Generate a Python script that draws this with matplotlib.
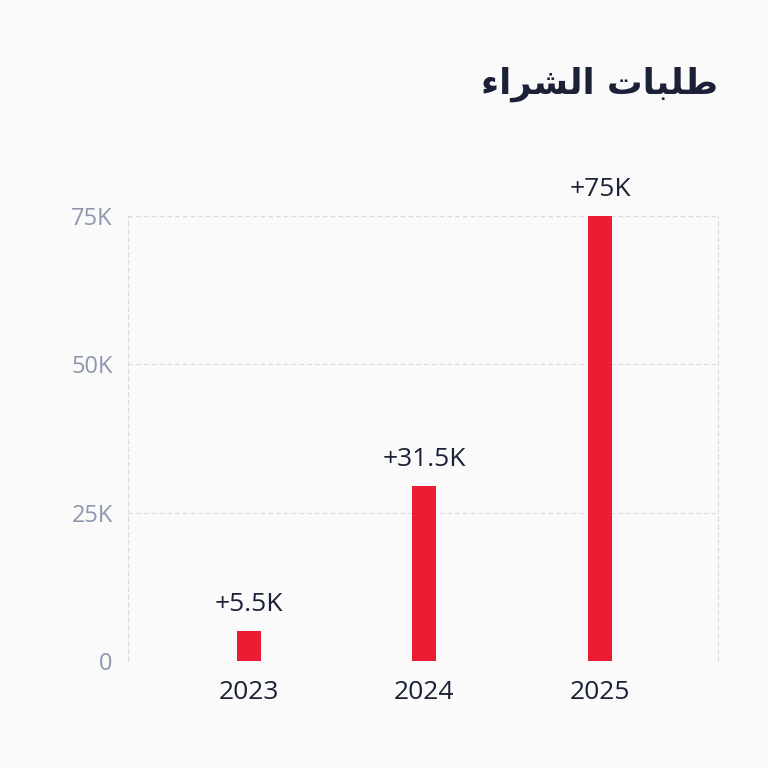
import matplotlib
matplotlib.use("Agg")
import matplotlib.pyplot as plt

# chart data
years = ["2023", "2024", "2025"]
values = [5000, 29500, 75000]
value_labels = ["+5.5K", "+31.5K", "+75K"]
y_ticks = [0, 25000, 50000, 75000]
y_tick_labels = ["0", "25K", "50K", "75K"]
title_logical = "طلبات الشراء"

# matplotlib has no arabic shaping, so map letters to presentation forms
# (isolated, final, initial, medial)
FORMS = {
    "ط": ("\ufec1", "\ufec2", "\ufec3", "\ufec4"),
    "ل": ("\ufedd", "\ufede", "\ufedf", "\ufee0"),
    "ب": ("\ufe8f", "\ufe90", "\ufe91", "\ufe92"),
    "ا": ("\ufe8d", "\ufe8e", None, None),
    "ت": ("\ufe95", "\ufe96", "\ufe97", "\ufe98"),
    "ش": ("\ufeb5", "\ufeb6", "\ufeb7", "\ufeb8"),
    "ر": ("\ufead", "\ufeae", None, None),
    "ء": ("\ufe80", None, None, None),
}


def joins_left(ch):
    return ch in FORMS and FORMS[ch][2] is not None


def shape_arabic(text):
    out = []
    for i, ch in enumerate(text):
        if ch not in FORMS:
            out.append(ch)
            continue
        prev = text[i - 1] if i > 0 else " "
        nxt = text[i + 1] if i + 1 < len(text) else " "
        from_prev = joins_left(prev)
        to_next = joins_left(ch) and nxt in FORMS and FORMS[nxt][1] is not None
        iso, fin, ini, med = FORMS[ch]
        if from_prev and to_next:
            out.append(med)
        elif from_prev and fin:
            out.append(fin)
        elif to_next:
            out.append(ini)
        else:
            out.append(iso)
    return "".join(reversed(out))


BG = "#fafafa"
RED = "#ec1c34"
DARK = "#1b2136"
GRAY = "#8e97ad"
GRID = "#d6dae1"

plt.rcParams["font.family"] = ["Open Sans", "DejaVu Sans"]

fig = plt.figure(figsize=(7.68, 7.68), dpi=100, facecolor=BG)
ax = fig.add_axes([128 / 768, 1 - 661 / 768, (718 - 128) / 768, (661 - 216) / 768])
ax.set_facecolor(BG)

x = list(range(len(years)))
ax.bar(x, values, width=0.137, color=RED, zorder=3)

for xi, v, lab in zip(x, values, value_labels):
    ax.annotate(lab, (xi, v), xytext=(0, 10), textcoords="offset points",
                ha="center", va="bottom", fontsize=19, color=DARK)

ax.set_xlim(-0.686, 2.671)
ax.set_ylim(0, 75000)
ax.set_xticks(x)
ax.set_xticklabels(years, fontsize=19, color=DARK)
ax.set_yticks(y_ticks)
ax.set_yticklabels(y_tick_labels, fontsize=17, color=GRAY)
ax.tick_params(axis="x", length=0, pad=14)
ax.tick_params(axis="y", length=0, pad=11)

ax.yaxis.grid(True, color=GRID, linestyle=(0, (4, 3)), linewidth=0.8, zorder=0)
ax.set_axisbelow(True)
for side in ["top", "bottom"]:
    ax.spines[side].set_visible(False)
for side in ["left", "right"]:
    ax.spines[side].set_color(GRID)
    ax.spines[side].set_linestyle((0, (4, 3)))
    ax.spines[side].set_linewidth(0.8)

fig.text(718 / 768, 1 - 84 / 768, shape_arabic(title_logical), ha="right", va="center",
         fontsize=25.5, fontweight="bold", color=DARK, family=["DejaVu Sans"])

fig.savefig("out.png", dpi=100, facecolor=BG)
